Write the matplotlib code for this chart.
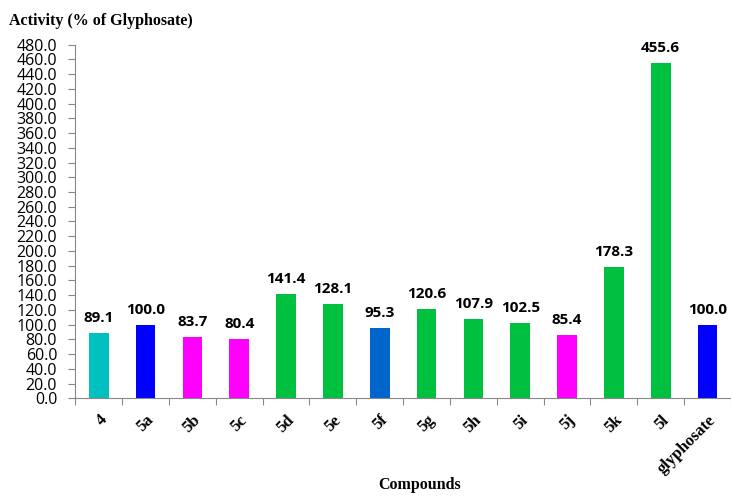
import matplotlib
matplotlib.use("Agg")
import matplotlib.pyplot as plt
import numpy as np

categories = ["4", "5a", "5b", "5c", "5d", "5e", "5f", "5g", "5h", "5i", "5j", "5k", "5l", "glyphosate"]
values = [89.1, 100.0, 83.7, 80.4, 141.4, 128.1, 95.3, 120.6, 107.9, 102.5, 85.4, 178.3, 455.6, 100.0]
colors = ["#00C0C0", "#0000FF", "#FF00FF", "#FF00FF", "#00C040", "#00C040", "#0066CC",
          "#00C040", "#00C040", "#00C040", "#FF00FF", "#00C040", "#00C040", "#0000FF"]
yticks = np.arange(0, 481, 20)

fig = plt.figure(figsize=(7.31, 4.96), dpi=100)
ax = fig.add_axes([0.103, 0.197, 0.897, 0.713])

x = np.arange(len(categories))
ax.bar(x, values, width=0.42, color=colors)
for xi, v in zip(x, values):
    ax.text(xi, v + 11, f"{v:.1f}", ha="center", va="bottom", fontsize=11,
            fontweight="bold", family="Open Sans")

ax.set_xlim(-0.5, len(categories) - 0.5)
ax.set_ylim(0, 480)
ax.set_yticks(yticks)
ax.set_yticklabels([f"{t:.1f}" for t in yticks], fontsize=11.5, family="Open Sans")
ax.set_xticks(np.arange(-0.5, len(categories), 1))
ax.set_xticklabels([])
ax.set_xticks(x, minor=True)
ax.set_xticklabels(categories, minor=True, rotation=45, ha="right", va="top",
                   rotation_mode="anchor", fontsize=12, fontweight="bold", family="Liberation Serif")
ax.tick_params(axis="x", which="minor", length=0, pad=10)
ax.tick_params(axis="x", which="major", length=5, color="#888888")
ax.tick_params(axis="y", length=5, color="#888888", pad=8)
for s in ["top", "right"]:
    ax.spines[s].set_visible(False)
for s in ["left", "bottom"]:
    ax.spines[s].set_color("#888888")

fig.text(0.012, 0.957, "Activity (% of Glyphosate)", fontsize=11.5, fontweight="bold",
         family="Liberation Serif", ha="left", va="center")
fig.text(0.574, 0.022, "Compounds", fontsize=11.5, fontweight="bold",
         family="Liberation Serif", ha="center", va="center")

fig.savefig("out.png", dpi=100)
